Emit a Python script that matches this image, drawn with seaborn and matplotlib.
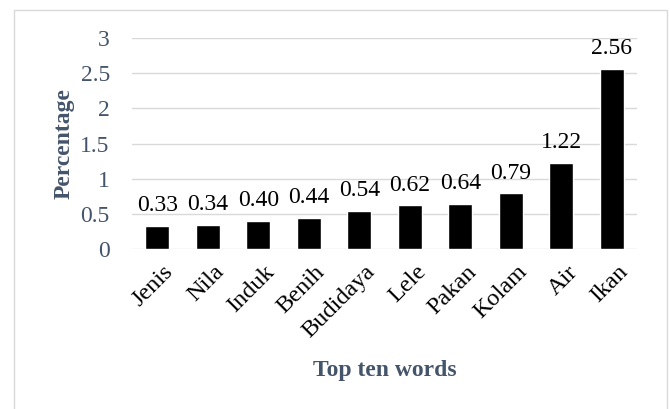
import matplotlib
matplotlib.use("Agg")
import matplotlib.pyplot as plt
import seaborn as sns
import pandas as pd
from matplotlib.patches import Rectangle
from matplotlib.transforms import ScaledTranslation

words = ["Jenis", "Nila", "Induk", "Benih", "Budidaya", "Lele", "Pakan", "Kolam", "Air", "Ikan"]
percent = [0.33, 0.34, 0.40, 0.44, 0.54, 0.62, 0.64, 0.79, 1.22, 2.56]
yticks = [0, 0.5, 1, 1.5, 2, 2.5, 3]
ytick_labels = ["0", "0.5", "1", "1.5", "2", "2.5", "3"]

sns.set_theme(style="white")
plt.rcParams['font.family'] = ['Liberation Serif', 'DejaVu Serif']

slate = "#44546A"
grid = "#D9D9D9"

df = pd.DataFrame({"word": words, "pct": percent})

fig = plt.figure(figsize=(6.7, 4.09), dpi=100)
ax = fig.add_axes([132/670, 1-249/409, (637-132)/670, (249-38)/409])

sns.barplot(data=df, x="word", y="pct", color="black", width=0.48, ax=ax,
            saturation=1, zorder=3)

ax.set_ylim(0, 3)
ax.set_xlim(-0.5, len(words)-0.5)
ax.set_yticks(yticks)
ax.set_yticklabels(ytick_labels, fontsize=17, color=slate)
ax.tick_params(axis='y', length=0, pad=16)
ax.tick_params(axis='x', length=0, pad=9)
offset = ScaledTranslation(4/72, 0, fig.dpi_scale_trans)
for lbl in ax.get_xticklabels():
    lbl.set_rotation(45)
    lbl.set_ha('right')
    lbl.set_rotation_mode('anchor')
    lbl.set_fontsize(17.5)
    lbl.set_color('black')
    lbl.set_transform(lbl.get_transform() + offset)

ax.yaxis.grid(True, color=grid, linewidth=1, zorder=0)
ax.xaxis.grid(False)
for s in ax.spines.values():
    s.set_visible(False)

for i, v in enumerate(percent):
    ax.text(i, v + 0.14, f"{v:.2f}", ha='center', va='bottom', fontsize=17, color='black')

ax.set_xlabel("Top ten words", fontsize=17, fontweight='bold', color=slate, labelpad=13)
ax.set_ylabel("Percentage", fontsize=17, fontweight='bold', color=slate, labelpad=4)

fig.patches.append(Rectangle((14/670, -0.05), (667-14)/670, 1.05 - 10/409,
                             transform=fig.transFigure, fill=False,
                             edgecolor="#D9D9D9", linewidth=1))

fig.savefig("out.png", dpi=100)
